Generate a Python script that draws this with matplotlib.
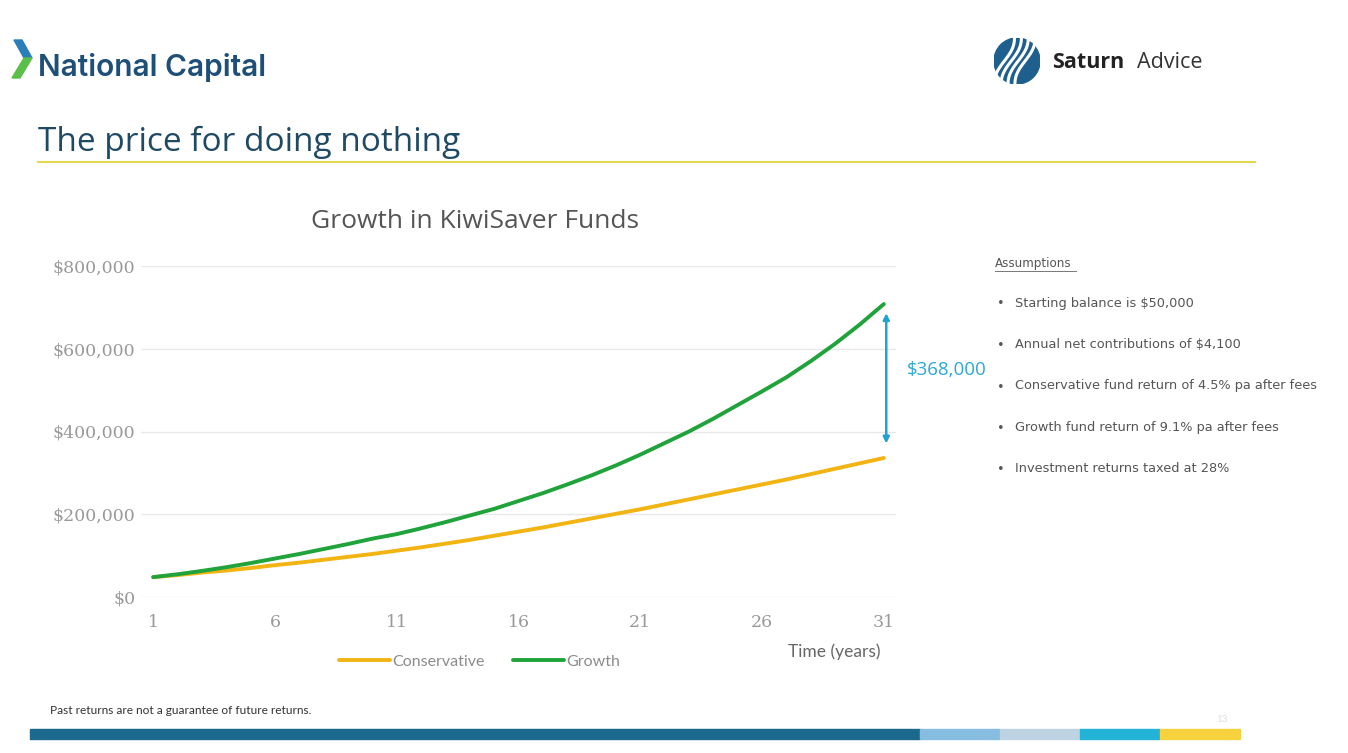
import numpy as np
import matplotlib
matplotlib.use("Agg")
import matplotlib.pyplot as plt
from matplotlib.patches import Polygon, Rectangle, Circle

# dane (w tysiacach $)
lata = list(range(1, 32))
growth = [48, 55, 63, 72, 82, 93, 104, 116, 128, 141, 152, 166, 181, 197, 213,
          232, 251, 272, 294, 318, 344, 372, 400, 431, 464, 497, 531, 570, 612,
          658, 708]
conservative = [48, 53, 59, 64, 70, 77, 83, 90, 97, 104, 112, 120, 129, 138,
                148, 158, 168, 179, 190, 201, 212, 224, 236, 248, 260, 272, 284,
                297, 310, 323, 336]
y_ticks = [0, 200000, 400000, 600000, 800000]
y_labels = ["$0", "$200,000", "$400,000", "$600,000", "$800,000"]
x_ticks = [1, 6, 11, 16, 21, 26, 31]
roznica = "$368,000"
zalozenia = ["Starting balance is $50,000",
             "Annual net contributions of $4,100",
             "Conservative fund return of 4.5% pa after fees",
             "Growth fund return of 9.1% pa after fees",
             "Investment returns taxed at 28%"]

W, H = 1348, 753
plt.rcParams['font.family'] = ['Lato', 'DejaVu Sans']
fig = plt.figure(figsize=(W / 100, H / 100), dpi=100)
fig.patch.set_facecolor("white")


def fx(x):
    return x / W


def fy(y):
    return 1 - y / H


# --- naglowek: logo National Capital
fig.patches.append(Polygon([(fx(14), fy(40)), (fx(22), fy(40)), (fx(32), fy(58)),
                            (fx(24), fy(58))], closed=True, color="#2a7fb8",
                           transform=fig.transFigure))
fig.patches.append(Polygon([(fx(24), fy(58)), (fx(32), fy(58)), (fx(20), fy(78)),
                            (fx(12), fy(78))], closed=True, color="#5cbf4a",
                           transform=fig.transFigure))
fig.text(fx(38), fy(67), "National Capital", fontsize=21.5, color="#1d4f78",
         fontweight="semibold", va="center", ha="left", family=["Inter", "DejaVu Sans"])

# logo Saturn Advice
logo = fig.add_axes([fx(994), fy(84), fx(46), 46 / H])
logo.set_xlim(-1, 1)
logo.set_ylim(-1, 1)
logo.set_aspect("equal")
logo.axis("off")
logo.add_patch(Circle((0, 0), 1, color="#1f5f8e"))
t = np.linspace(-1, 1, 50)
for k in range(4):
    off = -0.55 + k * 0.3
    logo.plot(off + 0.35 * t + 0.15 * np.sin(2.5 * t), t * 0.95, color="white", lw=2.2)
fig.text(fx(1052), fy(62), "Saturn", fontsize=15.5, fontweight="bold", color="#222222",
         va="center", ha="left", family=["Open Sans", "DejaVu Sans"])
fig.text(fx(1137), fy(62), "Advice", fontsize=15.5, color="#333333",
         va="center", ha="left", family=["Open Sans", "DejaVu Sans"])

# tytul slajdu
fig.text(fx(38), fy(142), "The price for doing nothing", fontsize=24, color="#1f4a63",
         va="center", ha="left", family=["Open Sans", "DejaVu Sans"])
fig.lines.append(plt.Line2D([fx(38), fx(1255)], [fy(162), fy(162)], color="#e6d84c",
                            lw=1.5, transform=fig.transFigure))

# --- wykres
ax = fig.add_axes([fx(141), fy(597), fx(896 - 141), (597 - 266) / H])
x = np.array(lata)
ax.plot(x, np.array(conservative) * 1000, color="#f2b413", lw=2.8,
        label="Conservative", solid_capstyle="round")
ax.plot(x, np.array(growth) * 1000, color="#1fa33a", lw=2.8,
        label="Growth", solid_capstyle="round")
ax.set_xlim(0.5, 31.5)
ax.set_ylim(0, 800000)
ax.set_yticks(y_ticks)
ax.set_yticklabels(y_labels)
ax.set_xticks(x_ticks)
for s in ax.spines.values():
    s.set_visible(False)
ax.tick_params(length=0, labelsize=12.5, labelcolor="#999999", pad=12)
ax.tick_params(axis="y", pad=4)
for lab in ax.get_xticklabels() + ax.get_yticklabels():
    lab.set_family(["DejaVu Serif"])
    lab.set_fontweight("light")
ax.grid(axis="y", color="#e8e8e8", lw=1)
ax.set_axisbelow(True)

# strzalka z roznica
ax.annotate("", xy=(lata[-1] + 0.1, conservative[-1] * 1000 + 35000),
            xytext=(lata[-1] + 0.1, growth[-1] * 1000 - 22000),
            arrowprops=dict(arrowstyle="<|-|>", color="#22a3cf", lw=1.8,
                            mutation_scale=9, shrinkA=0, shrinkB=0),
            annotation_clip=False)
fig.text(fx(947), fy(370), roznica, fontsize=13.5, color="#2aa8d8", ha="center",
         va="center", family=["Open Sans", "DejaVu Sans"])

fig.text(fx(475), fy(222), "Growth in KiwiSaver Funds", fontsize=19, color="#555555",
         ha="center", va="center", family=["Open Sans", "DejaVu Sans"])
leg = ax.legend(loc="upper left", bbox_to_anchor=(fx(325 - 141) / fx(755), -0.13),
                ncol=2, frameon=False, fontsize=11.5, handlelength=3.2,
                handletextpad=0.1, columnspacing=1.8)
for txt in leg.get_texts():
    txt.set_color("#8c8c8c")
fig.text(fx(880), fy(652), "Time (years)", fontsize=12.5, color="#666666",
         ha="right", va="center")

# --- zalozenia
a = fig.text(fx(995), fy(264), "Assumptions", fontsize=8.6, color="#555555",
             ha="left", va="center", family=["DejaVu Sans"])
fig.lines.append(plt.Line2D([fx(995), fx(1076)], [fy(271), fy(271)], color="#777777",
                            lw=0.7, transform=fig.transFigure))
for i, z in enumerate(zalozenia):
    yy = 303 + i * 41.5
    fig.text(fx(998), fy(yy), "\u2022", fontsize=7, color="#555555", ha="left", va="center")
    fig.text(fx(1015), fy(yy), z, fontsize=9.3, color="#555555", ha="left", va="center",
             family=["DejaVu Sans"])

# --- stopka
fig.text(fx(50), fy(711), "Past returns are not a guarantee of future returns.",
         fontsize=8.6, color="#333333", ha="left", va="center")
fig.text(fx(1222), fy(719), "13", fontsize=7, color="#dddddd", ha="center", va="center")
pasek = [(30, 920, "#1b6a8e"), (920, 1000, "#86bde0"), (1000, 1080, "#bdd3e2"),
         (1080, 1160, "#22b3d6"), (1160, 1240, "#f6d33e")]
for x0, x1, c in pasek:
    fig.patches.append(Rectangle((fx(x0), fy(739)), fx(x1 - x0), 10 / H, color=c,
                                 transform=fig.transFigure))

fig.savefig("out.png", dpi=100)
